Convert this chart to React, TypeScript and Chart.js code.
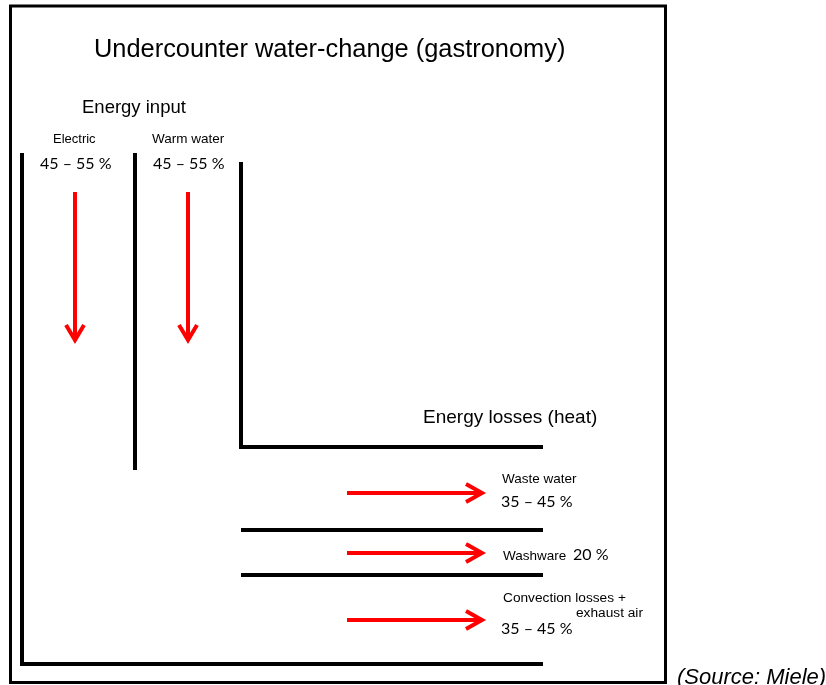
import React, { useEffect, useRef } from "react";
import { Chart, registerables } from "chart.js";

Chart.register(...registerables);

// Channel walls of the energy-flow diagram (diagram units)
const outerWall = [[22, 153], [22, 664], [543, 664]];
const dividerWall = [[135, 153], [135, 470]];
const innerWall = [[241, 162], [241, 447], [543, 447]];
const lossDividerUpper = [[241, 530], [543, 530]];
const lossDividerLower = [[241, 575], [543, 575]];

// Flow arrows
const inputArrowX = [75, 188];
const inputArrowSpan = [192, 340];
const lossArrowY = [493, 553, 620];
const lossArrowSpan = [347, 482];

// Labels
const title = "Undercounter water-change (gastronomy)";
const inputHeading = "Energy input";
const lossHeading = "Energy losses (heat)";
const inputCategories = ["Electric", "Warm water"];
const inputShares = ["45 – 55 %", "45 – 55 %"];
const lossCategories = ["Waste water", "Washware", "Convection losses +"];
const lossShares = ["35 – 45 %", "20 %", "35 – 45 %"];
const sourceNote = "(Source: Miele)";

const ARIAL = '"Liberation Sans", Arial, sans-serif';
const CALIBRI = 'Lato, "Open Sans", sans-serif';

const toPts = (arr: number[][]) => arr.map(([x, y]) => ({ x, y }));

export default function App() {
  const ref = useRef<HTMLCanvasElement | null>(null);

  useEffect(() => {
    document.body.style.margin = "0";
    const canvas = ref.current;
    if (!canvas) return;

    const wall = (pts: number[][]) => ({
      data: toPts(pts),
      showLine: true,
      borderColor: "#000",
      borderWidth: 4,
      pointRadius: 0,
      borderJoinStyle: "miter" as const,
      borderCapStyle: "butt" as const,
      fill: false,
    });
    const red = (pts: { x: number; y: number }[]) => ({
      data: pts,
      showLine: true,
      borderColor: "#f00",
      borderWidth: 4,
      pointRadius: 0,
      borderJoinStyle: "miter" as const,
      borderCapStyle: "butt" as const,
      fill: false,
    });

    const datasets: any[] = [
      wall(outerWall),
      wall(dividerWall),
      wall(innerWall),
      wall(lossDividerUpper),
      wall(lossDividerLower),
    ];
    inputArrowX.forEach((x) => {
      const [y0, y1] = inputArrowSpan;
      datasets.push(red([{ x, y: y0 }, { x, y: y1 - 2 }]));
      datasets.push(red([{ x: x - 9, y: y1 - 15 }, { x, y: y1 }, { x: x + 9, y: y1 - 15 }]));
    });
    lossArrowY.forEach((y) => {
      const [x0, x1] = lossArrowSpan;
      datasets.push(red([{ x: x0, y }, { x: x1 - 2, y }]));
      datasets.push(red([{ x: x1 - 16, y: y - 9 }, { x: x1, y }, { x: x1 - 16, y: y + 9 }]));
    });

    const textPlugin = {
      id: "diagramText",
      afterDatasetsDraw(chart: any) {
        const { ctx } = chart;
        const sx = chart.scales.x;
        const sy = chart.scales.y;
        const px = (v: number) => sx.getPixelForValue(v);
        const py = (v: number) => sy.getPixelForValue(v);
        ctx.save();
        // frame
        ctx.strokeStyle = "#000";
        ctx.lineWidth = 3;
        ctx.strokeRect(px(10.5), py(6), px(665.5) - px(10.5), py(682.5) - py(6));

        ctx.fillStyle = "#000";
        ctx.textBaseline = "alphabetic";
        ctx.textAlign = "left";
        const put = (t: string, x: number, y: number, font: string) => {
          ctx.font = font;
          ctx.fillText(t, px(x), py(y));
        };
        put(title, 94, 57, `25.4px ${ARIAL}`);
        put(inputHeading, 82, 113, `18.5px ${ARIAL}`);
        put(inputCategories[0], 53, 143, `13px ${ARIAL}`);
        put(inputCategories[1], 152, 143, `13.5px ${ARIAL}`);
        put(inputShares[0], 40, 169, `16px ${CALIBRI}`);
        put(inputShares[1], 153, 169, `16px ${CALIBRI}`);
        put(lossHeading, 423, 423, `19px ${ARIAL}`);
        put(lossCategories[0], 502, 483, `13.5px ${ARIAL}`);
        put(lossShares[0], 501, 507, `16px ${CALIBRI}`);
        put(lossCategories[1], 503, 560, `13.5px ${ARIAL}`);
        put(lossShares[1], 573, 560, `16px ${CALIBRI}`);
        put(lossCategories[2], 503, 602, `13.7px ${ARIAL}`);
        put("exhaust air", 576, 617, `13.7px ${ARIAL}`);
        put(lossShares[2], 501, 634, `16px ${CALIBRI}`);
        put(sourceNote, 677, 684, `italic 22px ${ARIAL}`);
        ctx.restore();
      },
    };

    const chart = new Chart(canvas, {
      type: "scatter",
      data: { datasets },
      options: {
        responsive: false,
        animation: false,
        devicePixelRatio: 1,
        layout: { padding: 0 },
        scales: {
          x: { type: "linear", min: 0, max: 826, display: false },
          y: { type: "linear", min: 0, max: 685, reverse: true, display: false },
        },
        plugins: { legend: { display: false }, tooltip: { enabled: false } },
        events: [],
      },
      plugins: [textPlugin],
    });
    return () => chart.destroy();
  }, []);

  return (
    <div style={{ width: 826, height: 685, background: "#fff" }}>
      <canvas ref={ref} width={826} height={685} style={{ display: "block" }} />
    </div>
  );
}
